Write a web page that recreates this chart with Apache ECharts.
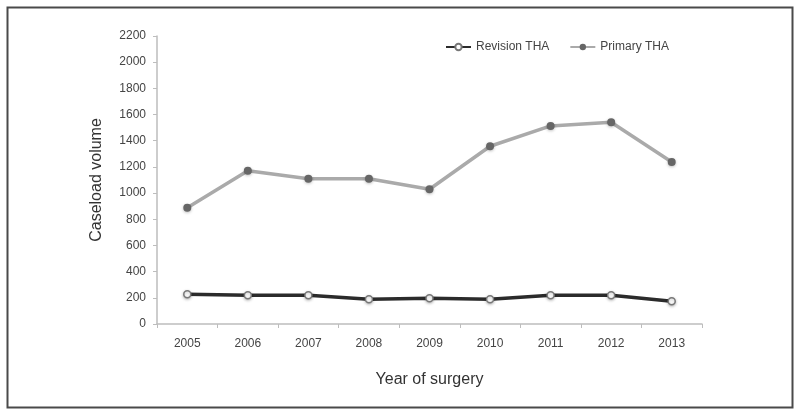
<!DOCTYPE html>
<html><head><meta charset="utf-8">
<script src="https://cdn.jsdelivr.net/npm/echarts@6/dist/echarts.min.js"></script>
<style>html,body{margin:0;padding:0;background:#fff}#c{width:796px;height:412px}</style>
</head><body><div id="c"></div>
<script>
var years = ['2005','2006','2007','2008','2009','2010','2011','2012','2013'];
var revision = [227, 219, 219, 189, 196, 189, 219, 219, 173];
var primary = [888, 1171, 1110, 1110, 1029, 1358, 1513, 1541, 1238];
var yTicks = {min: 0, max: 2200, interval: 200};

var chart = echarts.init(document.getElementById('c'));
var font = 'Liberation Sans, Arial, sans-serif';
chart.setOption({
  animation: false,
  backgroundColor: '#fff',
  textStyle: {fontFamily: font},
  graphic: [{
    type: 'rect', left: 5, top: 5,
    shape: {width: 785, height: 400},
    style: {fill: 'none', stroke: '#4a4a4a', lineWidth: 2}
  }],
  grid: {left: 157, right: 94, top: 36, bottom: 88},
  legend: {
    top: 36, right: 122, itemWidth: 25, itemHeight: 8, itemGap: 20,
    textStyle: {fontSize: 12, color: '#444', fontFamily: font},
    data: ['Revision THA', 'Primary THA']
  },
  xAxis: {
    type: 'category', data: years, boundaryGap: true,
    name: 'Year of surgery', nameLocation: 'middle', nameGap: 48,
    nameTextStyle: {fontSize: 16, color: '#333', fontFamily: font},
    axisLine: {lineStyle: {color: '#bdbdbd', width: 1.5}},
    axisTick: {show: true, length: 4, lineStyle: {color: '#bdbdbd'}},
    axisLabel: {fontSize: 12, color: '#444', margin: 14}
  },
  yAxis: {
    type: 'value', min: yTicks.min, max: yTicks.max, interval: yTicks.interval,
    name: 'Caseload volume', nameLocation: 'middle', nameGap: 52, nameRotate: 90,
    nameTextStyle: {fontSize: 16, color: '#333', fontFamily: font},
    axisLine: {show: true, lineStyle: {color: '#bdbdbd', width: 1.5}},
    axisTick: {show: true, length: 4, lineStyle: {color: '#bdbdbd'}},
    axisLabel: {fontSize: 12, color: '#444', margin: 11, formatter: function (v) { return String(v); }},
    splitLine: {show: false}
  },
  series: [{
    name: 'Revision THA', type: 'line', data: revision,
    symbol: 'circle', symbolSize: 7,
    lineStyle: {color: '#2b2b2b', width: 3.5},
    itemStyle: {color: '#ffffff', borderColor: '#777', borderWidth: 1.5,
      shadowColor: 'rgba(0,0,0,0.25)', shadowBlur: 3, shadowOffsetY: 1},
    z: 3
  }, {
    name: 'Primary THA', type: 'line', data: primary,
    symbol: 'circle', symbolSize: 8,
    lineStyle: {color: '#aaaaaa', width: 3.5},
    itemStyle: {color: '#666666', borderColor: '#666666', borderWidth: 0,
      shadowColor: 'rgba(0,0,0,0.25)', shadowBlur: 3, shadowOffsetY: 1},
    z: 2
  }]
});
</script></body></html>
